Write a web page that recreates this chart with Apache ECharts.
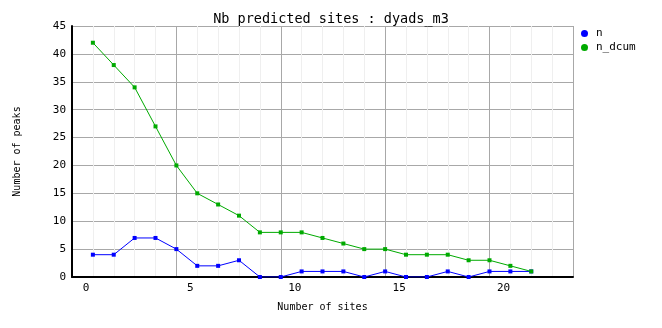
<!DOCTYPE html>
<html>
<head>
<meta charset="utf-8">
<script src="https://cdn.jsdelivr.net/npm/echarts@6/dist/echarts.min.js"></script>
<style>html,body{margin:0;padding:0;background:#fff}#c{width:662px;height:328px}</style>
</head>
<body>
<div id="c"></div>
<script>
const sites = [1,2,3,4,5,6,7,8,9,10,11,12,13,14,15,16,17,18,19,20,21,22];
const nValues = [4,4,7,7,5,2,2,3,0,0,1,1,1,0,1,0,0,1,0,1,1,1];
const nDcumValues = [42,38,34,27,20,15,13,11,8,8,8,7,6,5,5,4,4,4,3,3,2,1];
const seriesNames = ['n','n_dcum'];
const titleText = 'Nb predicted sites : dyads_m3';
const xName = 'Number of sites';
const yName = 'Number of peaks';

const font = 'DejaVu Sans Mono';
const chart = echarts.init(document.getElementById('c'), null, {renderer:'canvas'});
chart.setOption({
  animation: false,
  backgroundColor: '#ffffff',
  title: {
    text: titleText, left: 'center', top: 7, padding: [5,5,5,5],
    textStyle: {fontFamily: font, fontSize: 13.5, fontWeight: 'normal', color: '#000'}
  },
  legend: {
    orient: 'vertical', left: 576, top: 23,
    itemWidth: 7, itemHeight: 7, itemGap: 3, icon: 'circle',
    textStyle: {fontFamily: font, fontSize: 11, lineHeight: 11, color: '#000', padding: [0,0,0,3]},
    data: seriesNames
  },
  grid: {left: 72, right: 89, top: 26, bottom: 51, containLabel: false},
  xAxis: {
    type: 'value', min: 0, max: 24, interval: 5,
    name: xName, nameLocation: 'middle', nameGap: 25,
    nameTextStyle: {fontFamily: font, fontSize: 10, color: '#000'},
    axisLine: {show: true, lineStyle: {color: '#000', width: 2}},
    axisTick: {show: false},
    axisLabel: {fontFamily: font, fontSize: 11, color: '#000', margin: 6, padding: [0,0,0,28], showMaxLabel: false},
    splitLine: {show: true, lineStyle: {color: '#a8a8a8', width: 1}},
    minorTick: {show: false, splitNumber: 5},
    minorSplitLine: {show: true, lineStyle: {color: '#efefef', width: 1}}
  },
  yAxis: {
    type: 'value', min: 0, max: 45, interval: 5,
    name: yName, nameLocation: 'middle', nameGap: 50, nameRotate: 90,
    nameTextStyle: {fontFamily: font, fontSize: 10, color: '#000'},
    axisLine: {show: true, lineStyle: {color: '#000', width: 2}},
    axisTick: {show: false},
    axisLabel: {fontFamily: font, fontSize: 11, color: '#000', margin: 6},
    splitLine: {show: true, lineStyle: {color: '#a8a8a8', width: 1}}
  },
  series: [
    {
      name: seriesNames[0], type: 'line',
      data: sites.map((s,i) => [s, nValues[i]]),
      symbol: 'rect', symbolSize: 4, showSymbol: true,
      itemStyle: {color: '#0000ff'},
      lineStyle: {color: '#0000ff', width: 1}
    },
    {
      name: seriesNames[1], type: 'line',
      data: sites.map((s,i) => [s, nDcumValues[i]]),
      symbol: 'rect', symbolSize: 4, showSymbol: true,
      itemStyle: {color: '#00aa00'},
      lineStyle: {color: '#00aa00', width: 1}
    }
  ]
});
</script>
</body>
</html>
